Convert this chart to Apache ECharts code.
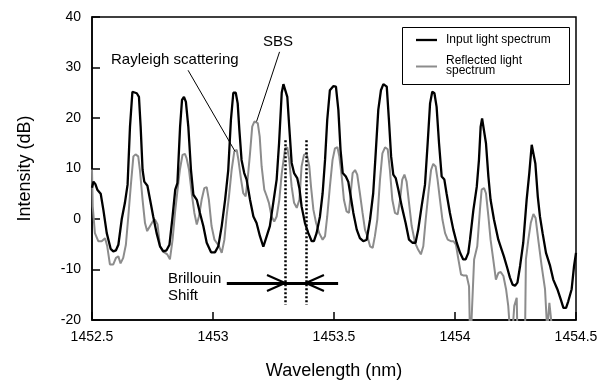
<!DOCTYPE html>
<html>
<head>
<meta charset="utf-8">
<script src="https://cdn.jsdelivr.net/npm/echarts@6/dist/echarts.min.js"></script>
<style>html,body{margin:0;padding:0;background:#fff;}#c{width:611px;height:383px;}</style>
</head>
<body>
<div id="c"></div>
<script>
const xTicks = [1452.5, 1453, 1453.5, 1454, 1454.5];
const yTicks = [-20, -10, 0, 10, 20, 30, 40];
const seriesNames = ['Input light spectrum', 'Reflected light\nspectrum'];

const inputX = [1452.500,1452.506,1452.514,1452.522,1452.536,1452.547,1452.561,1452.577,1452.588,1452.599,1452.609,1452.623,1452.636,1452.647,1452.657,1452.667,1452.675,1452.685,1452.694,1452.701,1452.709,1452.716,1452.729,1452.740,1452.753,1452.767,1452.781,1452.795,1452.808,1452.820,1452.833,1452.844,1452.853,1452.864,1452.872,1452.880,1452.888,1452.898,1452.909,1452.919,1452.933,1452.946,1452.960,1452.974,1452.992,1453.008,1453.022,1453.036,1453.050,1453.063,1453.074,1453.084,1453.094,1453.102,1453.109,1453.118,1453.129,1453.139,1453.153,1453.167,1453.180,1453.194,1453.208,1453.222,1453.235,1453.249,1453.263,1453.273,1453.284,1453.291,1453.298,1453.307,1453.315,1453.325,1453.335,1453.348,1453.357,1453.366,1453.380,1453.394,1453.408,1453.417,1453.428,1453.442,1453.453,1453.463,1453.472,1453.483,1453.497,1453.508,1453.518,1453.527,1453.536,1453.549,1453.559,1453.569,1453.580,1453.594,1453.607,1453.621,1453.635,1453.649,1453.662,1453.671,1453.683,1453.694,1453.704,1453.718,1453.727,1453.736,1453.745,1453.755,1453.766,1453.780,1453.796,1453.810,1453.824,1453.837,1453.848,1453.862,1453.876,1453.887,1453.897,1453.906,1453.915,1453.924,1453.934,1453.945,1453.956,1453.965,1453.979,1453.993,1454.007,1454.021,1454.034,1454.044,1454.055,1454.062,1454.076,1454.090,1454.099,1454.106,1454.112,1454.120,1454.128,1454.138,1454.147,1454.161,1454.179,1454.193,1454.202,1454.216,1454.227,1454.238,1454.248,1454.258,1454.269,1454.282,1454.296,1454.307,1454.317,1454.324,1454.332,1454.342,1454.351,1454.362,1454.376,1454.393,1454.406,1454.423,1454.437,1454.448,1454.459,1454.468,1454.482,1454.492,1454.500];
const inputY = [6.2,7.4,6.9,5.8,5.0,1.8,-2.8,-5.9,-6.4,-6.2,-5.1,0.0,3.2,6.8,18.3,25.2,25.3,24.9,24.2,18.3,9.7,7.4,6.6,3.8,0.5,-2.8,-5.4,-6.4,-6.2,-5.1,0.5,5.8,7.1,18.3,23.6,24.2,23.2,18.3,9.7,4.8,3.8,1.2,-1.4,-4.7,-6.6,-6.6,-5.4,-1.4,3.8,9.7,19.6,25.0,25.0,22.9,17.6,11.7,9.1,7.8,3.8,0.5,-0.8,-3.4,-5.5,-3.4,-1.4,3.2,7.8,15.0,25.0,26.7,26.8,24.2,18.3,11.1,9.1,8.1,6.1,2.5,-0.8,-2.8,-4.4,-4.4,-2.8,0.5,5.1,11.7,19.6,25.5,26.3,26.2,21.6,13.7,9.1,8.4,7.4,4.5,1.2,-2.1,-3.8,-4.4,-4.1,-0.1,5.1,12.0,21.6,25.5,26.7,26.2,19.6,12.4,8.8,8.1,5.8,2.5,-0.8,-4.1,-4.7,-4.7,-2.1,2.5,6.8,15.0,22.9,25.2,24.9,22.2,15.0,8.4,7.8,5.1,1.2,-2.1,-4.7,-6.7,-8.0,-8.0,-6.7,-4.1,1.8,6.4,11.7,18.3,19.9,19.7,15.0,8.4,3.8,-0.1,-4.1,-6.1,-7.4,-9.7,-11.6,-13.0,-13.2,-12.6,-9.3,-4.7,3.8,9.1,14.7,14.5,11.0,4.5,0.5,-2.8,-6.7,-9.3,-12.0,-13.9,-15.9,-17.6,-17.6,-16.3,-13.9,-9.3,-6.7];

const reflX = [1452.500,1452.503,1452.512,1452.526,1452.540,1452.554,1452.563,1452.574,1452.588,1452.599,1452.609,1452.618,1452.629,1452.640,1452.650,1452.660,1452.671,1452.680,1452.691,1452.698,1452.709,1452.719,1452.728,1452.740,1452.751,1452.760,1452.771,1452.781,1452.792,1452.802,1452.811,1452.822,1452.833,1452.843,1452.852,1452.863,1452.874,1452.884,1452.891,1452.901,1452.912,1452.923,1452.933,1452.942,1452.953,1452.964,1452.974,1452.983,1452.994,1453.006,1453.015,1453.025,1453.036,1453.047,1453.056,1453.066,1453.077,1453.088,1453.098,1453.105,1453.116,1453.125,1453.135,1453.143,1453.153,1453.162,1453.171,1453.185,1453.193,1453.201,1453.212,1453.222,1453.231,1453.242,1453.253,1453.263,1453.274,1453.284,1453.298,1453.307,1453.315,1453.325,1453.335,1453.346,1453.357,1453.366,1453.376,1453.387,1453.398,1453.405,1453.415,1453.426,1453.439,1453.453,1453.463,1453.472,1453.483,1453.494,1453.504,1453.514,1453.522,1453.532,1453.541,1453.552,1453.562,1453.569,1453.577,1453.587,1453.596,1453.607,1453.618,1453.628,1453.638,1453.649,1453.660,1453.669,1453.679,1453.690,1453.700,1453.711,1453.722,1453.731,1453.741,1453.752,1453.763,1453.773,1453.782,1453.791,1453.800,1453.810,1453.821,1453.835,1453.848,1453.859,1453.869,1453.879,1453.890,1453.901,1453.910,1453.920,1453.928,1453.938,1453.948,1453.959,1453.970,1453.983,1453.994,1454.004,1454.014,1454.025,1454.036,1454.048,1454.058,1454.063,1454.070,1454.079,1454.092,1454.103,1454.110,1454.120,1454.128,1454.138,1454.147,1454.158,1454.169,1454.179,1454.189,1454.200,1454.211,1454.220,1454.227,1454.238,1454.245,1454.255,1454.259,1454.289,1454.293,1454.303,1454.313,1454.324,1454.333,1454.344,1454.358,1454.372,1454.381,1454.390,1454.397,1454.406,1454.500];
const reflY = [9.8,2.5,-2.8,-4.4,-4.4,-3.8,-5.4,-9.0,-9.0,-7.7,-7.4,-8.8,-7.7,-5.1,0.5,6.4,12.4,12.8,12.4,9.7,3.8,-0.8,-2.4,-1.4,-0.5,-0.1,-1.1,-5.4,-6.4,-6.7,-7.0,-8.0,-4.1,1.2,5.1,9.7,12.7,12.9,12.0,9.7,5.1,1.2,-1.1,0.5,3.8,6.1,6.3,3.8,-1.4,-4.1,-4.7,-5.4,-6.7,-4.1,0.5,4.5,9.7,13.4,13.7,11.7,7.8,5.1,4.5,7.8,13.0,18.3,19.3,19.0,16.3,10.4,5.8,4.5,3.2,0.5,-0.5,0.5,3.8,9.0,14.0,14.2,11.7,6.4,3.2,2.2,3.8,10.4,12.7,13.0,10.4,6.4,1.8,-0.8,-2.8,-4.1,-3.4,0.5,6.4,11.7,14.0,14.2,12.4,8.4,3.8,1.5,1.2,5.1,9.1,9.7,8.8,5.1,1.2,-2.1,-3.4,-5.4,-5.7,-3.4,-0.1,7.8,13.0,14.2,13.8,9.7,3.8,1.2,0.9,3.8,7.8,8.8,7.4,3.2,-1.4,-4.7,-6.1,-7.0,-5.4,-0.1,5.1,9.7,10.9,10.4,7.8,3.8,-0.1,-2.8,-4.1,-4.4,-4.4,-5.1,-8.0,-11.0,-11.2,-11.2,-13.3,-26,-26,-8.0,-5.4,1.8,5.8,6.1,5.1,0.5,-4.1,-8.0,-12.0,-10.7,-10.5,-11.3,-13.9,-17.2,-22,-22,-17.2,-15.6,-25,-25,-8.0,-4.1,-0.8,1.0,0.2,-4.1,-9.3,-13.9,-22,-16.6,-16.3,-24,-28];

// annotation anchors (data coordinates)
const rayleighLeader = [[1452.897, 29.45], [1453.091, 13.4]];
const sbsLeader = [[1453.275, 33.1], [1453.180, 19.3]];
const shiftMarks = [1453.2975, 1453.384];
const dottedRange = [15.6, -17.0];
const arrowY = -12.66;
const arrowSpan = [1453.057, 1453.517];
const headDx = 0.0744, headDy = 1.58;

const FONT = 'Liberation Sans, Arial, Helvetica, sans-serif';
const chart = echarts.init(document.getElementById('c'), null, {renderer: 'canvas'});

const thin = {color: '#000', width: 1, type: 'solid'};
const dots = {color: '#000', width: 2.5, type: [2, 2]};
const shaft = {color: '#000', width: 2.8, type: 'solid'};
const head = {color: '#000', width: 2.2, type: 'solid'};
function seg(a, b, ls) { return [{coord: a, lineStyle: ls}, {coord: b}]; }

const markData = [
  seg(rayleighLeader[0], rayleighLeader[1], thin),
  seg(sbsLeader[0], sbsLeader[1], thin),
  seg([shiftMarks[0], dottedRange[0]], [shiftMarks[0], dottedRange[1]], dots),
  seg([shiftMarks[1], dottedRange[0]], [shiftMarks[1], dottedRange[1]], dots),
  seg([arrowSpan[0], arrowY], [arrowSpan[1], arrowY], shaft),
  seg([shiftMarks[0] - headDx, arrowY + headDy], [shiftMarks[0], arrowY], head),
  seg([shiftMarks[0] - headDx, arrowY - headDy], [shiftMarks[0], arrowY], head),
  seg([shiftMarks[1] + headDx, arrowY + headDy], [shiftMarks[1], arrowY], head),
  seg([shiftMarks[1] + headDx, arrowY - headDy], [shiftMarks[1], arrowY], head)
];

const option = {
  animation: false,
  backgroundColor: '#fff',
  textStyle: {fontFamily: FONT},
  grid: {left: 92, right: 35, top: 17, bottom: 63, outerBoundsMode: 'none', containLabel: false, show: true, borderColor: '#000', borderWidth: 1.5, backgroundColor: 'transparent'},
  xAxis: {
    type: 'value', min: xTicks[0], max: xTicks[xTicks.length - 1], interval: 0.5,
    name: 'Wavelength (nm)', nameLocation: 'middle', nameGap: 42,
    nameTextStyle: {fontSize: 18, color: '#000', fontFamily: FONT},
    axisLine: {show: true, onZero: false, lineStyle: {color: '#000', width: 1.5}},
    axisTick: {show: true, inside: true, length: 8, lineStyle: {color: '#000', width: 1.5}},
    axisLabel: {fontSize: 14, color: '#000', margin: 10, fontFamily: FONT, formatter: v => String(v)},
    splitLine: {show: false}
  },
  yAxis: {
    type: 'value', min: yTicks[0], max: yTicks[yTicks.length - 1], interval: 10,
    name: 'Intensity (dB)', nameLocation: 'middle', nameGap: 58,
    nameTextStyle: {fontSize: 18, color: '#000', fontFamily: FONT},
    axisLine: {show: true, onZero: false, lineStyle: {color: '#000', width: 1.5}},
    axisTick: {show: true, inside: true, length: 8, lineStyle: {color: '#000', width: 1.5}},
    axisLabel: {fontSize: 14, color: '#000', margin: 11, fontFamily: FONT, formatter: v => String(v)},
    splitLine: {show: false}
  },
  series: [
    {
      name: seriesNames[1], type: 'line', symbol: 'none', z: 2,
      data: reflX.map((x, i) => [x, reflY[i]]),
      lineStyle: {color: '#8c8c8c', width: 2}, clip: true
    },
    {
      name: seriesNames[0], type: 'line', symbol: 'none', z: 3,
      data: inputX.map((x, i) => [x, inputY[i]]),
      lineStyle: {color: '#000', width: 2.3}, clip: true,
      markLine: {silent: true, symbol: ['none', 'none'], label: {show: false}, animation: false, data: markData}
    }
  ],
  graphic: [
    {type: 'rect', left: 402, top: 27, shape: {width: 167, height: 57}, style: {fill: '#fff', stroke: '#000', lineWidth: 1}, z: 100},
    {type: 'line', shape: {x1: 416, y1: 40, x2: 437, y2: 40}, style: {stroke: '#000', lineWidth: 2.3}, z: 101},
    {type: 'line', shape: {x1: 416, y1: 66.5, x2: 437, y2: 66.5}, style: {stroke: '#8c8c8c', lineWidth: 2}, z: 101},
    {type: 'text', x: 446, y: 40, style: {text: seriesNames[0], font: '12px ' + FONT, fill: '#000', verticalAlign: 'middle'}, z: 101},
    {type: 'text', x: 446, y: 66, style: {text: seriesNames[1], font: '12px ' + FONT, fill: '#000', verticalAlign: 'middle', lineHeight: 10}, z: 101},
    {type: 'text', x: 111, y: 60, style: {text: 'Rayleigh scattering', font: '15px ' + FONT, fill: '#000', verticalAlign: 'middle'}, z: 101},
    {type: 'text', x: 278, y: 42, style: {text: 'SBS', font: '15px ' + FONT, fill: '#000', verticalAlign: 'middle', align: 'center'}, z: 101},
    {type: 'text', x: 168, y: 279, style: {text: 'Brillouin', font: '15px ' + FONT, fill: '#000', verticalAlign: 'middle'}, z: 101},
    {type: 'text', x: 168, y: 296, style: {text: 'Shift', font: '15px ' + FONT, fill: '#000', verticalAlign: 'middle'}, z: 101}
  ]
};
chart.setOption(option);
</script>
</body>
</html>
